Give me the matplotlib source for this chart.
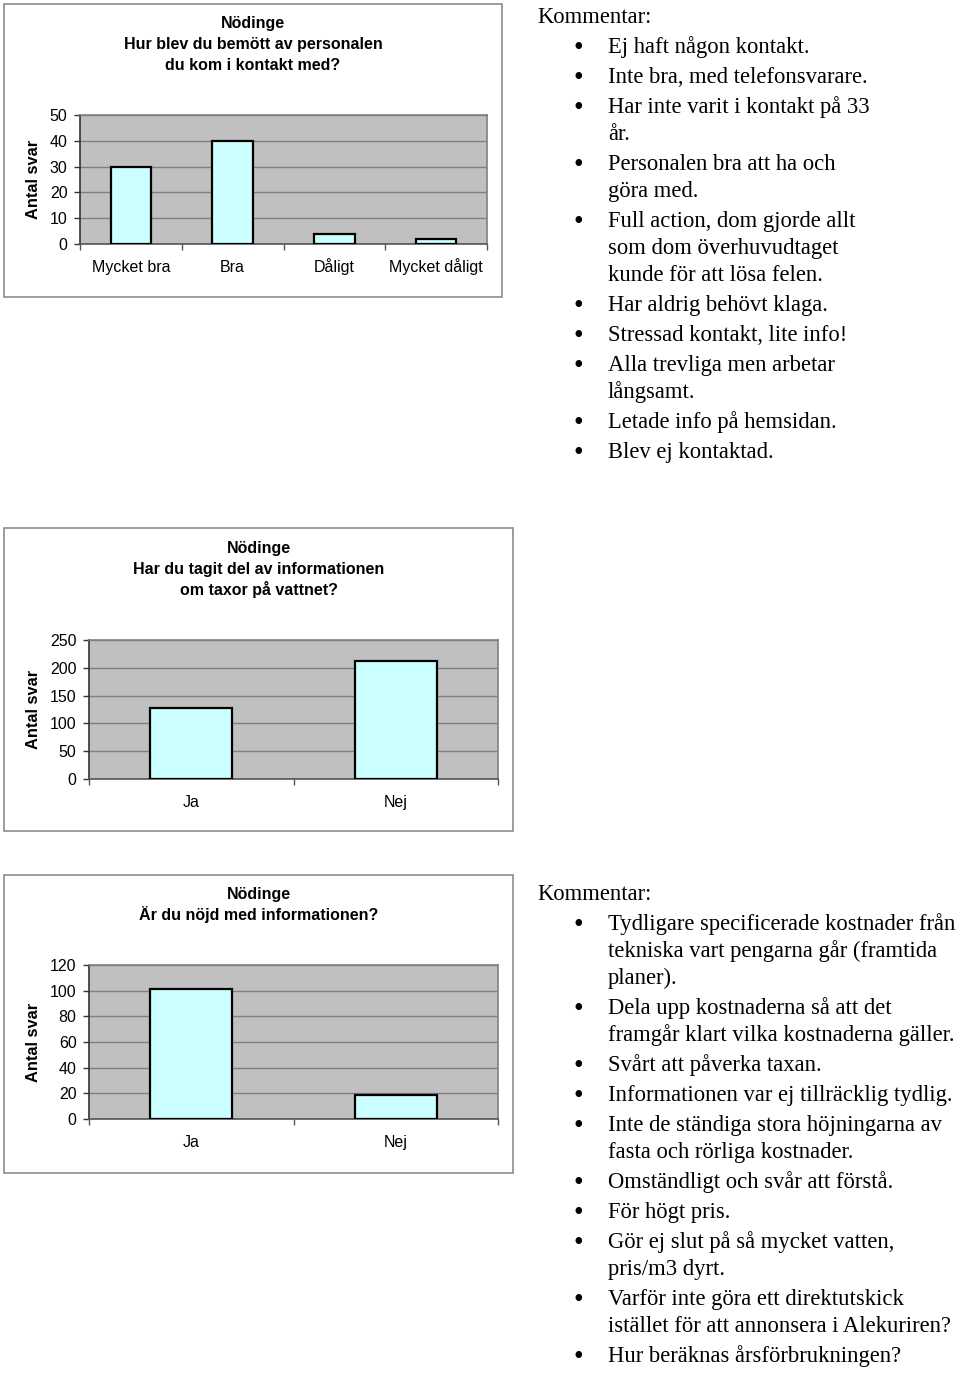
import matplotlib
matplotlib.use("Agg")
import matplotlib.pyplot as plt
from matplotlib.patches import Rectangle
import numpy as np

# ---------------- data ----------------
title1 = ["Nödinge", "Hur blev du bemött av personalen", "du kom i kontakt med?"]
cats1 = ["Mycket bra", "Bra", "Dåligt", "Mycket dåligt"]
vals1 = [30, 40, 4, 2]
yticks1 = [0, 10, 20, 30, 40, 50]

title2 = ["Nödinge", "Har du tagit del av informationen", "om taxor på vattnet?"]
cats2 = ["Ja", "Nej"]
vals2 = [128, 212]
yticks2 = [0, 50, 100, 150, 200, 250]

title3 = ["Nödinge", "Är du nöjd med informationen?"]
cats3 = ["Ja", "Nej"]
vals3 = [101, 19]
yticks3 = [0, 20, 40, 60, 80, 100, 120]

ylabel = "Antal svar"
comment_head = "Kommentar:"
comments1 = [
    ["Ej haft någon kontakt."],
    ["Inte bra, med telefonsvarare."],
    ["Har inte varit i kontakt på 33", "år."],
    ["Personalen bra att ha och", "göra med."],
    ["Full action, dom gjorde allt", "som dom överhuvudtaget", "kunde för att lösa felen."],
    ["Har aldrig behövt klaga."],
    ["Stressad kontakt, lite info!"],
    ["Alla trevliga men arbetar", "långsamt."],
    ["Letade info på hemsidan."],
    ["Blev ej kontaktad."],
]
comments2 = [
    ["Tydligare specificerade kostnader från", "tekniska vart pengarna går (framtida", "planer)."],
    ["Dela upp kostnaderna så att det", "framgår klart vilka kostnaderna gäller."],
    ["Svårt att påverka taxan."],
    ["Informationen var ej tillräcklig tydlig."],
    ["Inte de ständiga stora höjningarna av", "fasta och rörliga kostnader."],
    ["Omständligt och svår att förstå."],
    ["För högt pris."],
    ["Gör ej slut på så mycket vatten,", "pris/m3 dyrt."],
    ["Varför inte göra ett direktutskick", "istället för att annonsera i Alekuriren?"],
    ["Hur beräknas årsförbrukningen?"],
]

# ---------------- layout ----------------
W, H = 960, 1373
fig = plt.figure(figsize=(W / 100, H / 100), dpi=100)
fig.patch.set_facecolor("white")

SANS = ["Liberation Sans", "DejaVu Sans"]
SERIF = ["Liberation Serif", "DejaVu Serif"]


def fx(x):
    return x / W


def fy(y):
    return 1 - y / H


def frame(x0, y0, x1, y1):
    fig.patches.append(Rectangle((fx(x0), fy(y1)), fx(x1) - fx(x0), fy(y0) - fy(y1),
                                 transform=fig.transFigure, fill=False,
                                 edgecolor="#8c8c8c", linewidth=1.2))


def chart(cats, vals, yticks, title, box, plot, title_base):
    x0, y0, x1, y1 = box
    frame(x0, y0, x1, y1)
    px0, py0, px1, py1 = plot
    ax = fig.add_axes([fx(px0), fy(py1), fx(px1) - fx(px0), fy(py0) - fy(py1)])
    ax.set_facecolor("#c0c0c0")
    n = len(cats)
    xs = np.arange(n)
    ax.bar(xs, vals, width=0.4, color="#ccffff", edgecolor="black", linewidth=1.6, zorder=3)
    ax.set_xlim(-0.5, n - 0.5)
    ax.set_ylim(yticks[0], yticks[-1])
    ax.set_yticks(yticks)
    ax.set_yticklabels([str(t) for t in yticks], fontsize=11.5, family=SANS)
    ax.yaxis.grid(True, color="#808080", linewidth=1.0, zorder=1)
    ax.set_axisbelow(True)
    ax.set_xticks(xs)
    ax.set_xticklabels(cats, fontsize=11.5, family=SANS, va="baseline")
    ax.set_xticks(np.arange(n + 1) - 0.5, minor=True)
    ax.tick_params(axis="x", which="major", length=0, pad=20.5)
    ax.tick_params(axis="x", which="minor", length=4, width=1, color="#555555", direction="out")
    ax.tick_params(axis="y", length=4, width=1, color="#333333", pad=5, direction="out")
    for s in ["top", "right"]:
        ax.spines[s].set_color("#808080")
        ax.spines[s].set_linewidth(1.2)
    ax.spines["left"].set_color("#333333")
    ax.spines["bottom"].set_color("#555555")
    ax.spines["left"].set_linewidth(1.2)
    ax.spines["bottom"].set_linewidth(1.2)
    for i, line in enumerate(title):
        fig.text(fx((x0 + x1) / 2), fy(title_base + 21 * i), line, ha="center", va="baseline",
                 fontsize=11.5, fontweight="bold", family=SANS)
    fig.text(fx(33), fy((py0 + py1) / 2), ylabel, rotation=90, ha="center", va="center",
             fontsize=11.8, fontweight="bold", family=SANS)
    return ax


chart(cats1, vals1, yticks1, title1, (4, 4, 502, 297), (80, 115, 487, 244), 28)
chart(cats2, vals2, yticks2, title2, (4, 528, 513, 831), (89, 640, 498, 779), 553)
chart(cats3, vals3, yticks3, title3, (4, 875, 513, 1173), (89, 965, 498, 1119), 899)


def comments(items, head_base):
    fig.text(fx(537), fy(head_base), comment_head, ha="left", va="baseline",
             fontsize=16.3, family=SERIF)
    y = head_base + 30
    for item in items:
        fig.text(fx(578), fy(y + 2), "•", ha="center", va="baseline", fontsize=20, family=SERIF)
        for j, line in enumerate(item):
            fig.text(fx(608), fy(y), line, ha="left", va="baseline",
                     fontsize=16.3, family=SERIF)
            if j < len(item) - 1:
                y += 27
        y += 30


comments(comments1, 23)
comments(comments2, 900)

fig.savefig("out.png", dpi=100)
